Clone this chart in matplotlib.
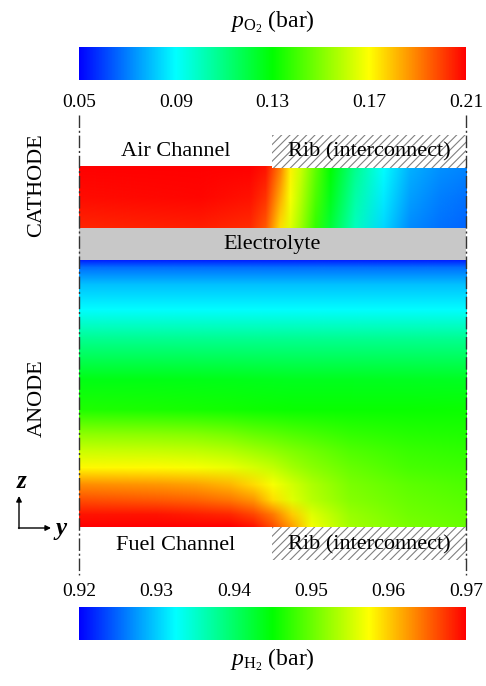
import numpy as np
import matplotlib
matplotlib.use("Agg")
import matplotlib.pyplot as plt
from matplotlib.colors import LinearSegmentedColormap, Normalize
from matplotlib.cm import ScalarMappable
from matplotlib.patches import Rectangle
from matplotlib.image import NonUniformImage

plt.rcParams['font.family'] = ['Liberation Serif', 'DejaVu Serif']
plt.rcParams['mathtext.fontset'] = 'custom'
plt.rcParams['mathtext.rm'] = 'Liberation Serif'
plt.rcParams['mathtext.it'] = 'Liberation Serif:italic'
plt.rcParams['hatch.linewidth'] = 0.8

# ---------------- data ----------------
po2_ticks = [0.05, 0.09, 0.13, 0.17, 0.21]
ph2_ticks = [0.92, 0.93, 0.94, 0.95, 0.96, 0.97]
po2_label = r'$p_{\mathrm{O_2}}$ (bar)'
ph2_label = r'$p_{\mathrm{H_2}}$ (bar)'

# cathode field: normalised in-plane position y/W (0 = channel side, 1 = rib side)
cath_y = [0.0, 0.313, 0.442, 0.481, 0.519, 0.545, 0.571, 0.610, 0.649, 0.713, 0.786, 0.855, 0.933, 1.0]
cath_z = [0.0, 0.5, 1.0]          # 0 = electrolyte side, 1 = air channel side
cath_po2 = [
    [0.204, 0.205, 0.203, 0.196, 0.175, 0.165, 0.155, 0.138, 0.121, 0.100, 0.084, 0.072, 0.068, 0.066],
    [0.208, 0.209, 0.207, 0.202, 0.183, 0.169, 0.159, 0.142, 0.126, 0.104, 0.087, 0.075, 0.070, 0.068],
    [0.210, 0.210, 0.210, 0.207, 0.190, 0.172, 0.162, 0.145, 0.130, 0.108, 0.090, 0.078, 0.073, 0.071],
]

# anode field
anode_y = [0.0, 0.2, 0.3, 0.39, 0.45, 0.5, 0.55, 0.6, 0.7, 0.85, 1.0]
anode_z = [0.0, 0.045, 0.101, 0.157, 0.221, 0.281, 0.345, 0.438, 0.551, 0.700, 0.813, 0.906, 0.970, 1.0]  # 0 = fuel side
anode_ph2 = [
    [0.9700, 0.9700, 0.9700, 0.9700, 0.9690, 0.9660, 0.9620, 0.9570, 0.9530, 0.9510, 0.9500],
    [0.9690, 0.9690, 0.9685, 0.9680, 0.9665, 0.9640, 0.9600, 0.9560, 0.9525, 0.9505, 0.9497],
    [0.9660, 0.9655, 0.9650, 0.9640, 0.9625, 0.9590, 0.9560, 0.9540, 0.9515, 0.9500, 0.9492],
    [0.9630, 0.9625, 0.9620, 0.9610, 0.9592, 0.9572, 0.9553, 0.9535, 0.9510, 0.9495, 0.9488],
    [0.9577, 0.9576, 0.9572, 0.9565, 0.9555, 0.9545, 0.9530, 0.9518, 0.9500, 0.9485, 0.9480],
    [0.9550, 0.9548, 0.9545, 0.9538, 0.9530, 0.9522, 0.9513, 0.9505, 0.9490, 0.9478, 0.9473],
    [0.9520, 0.9518, 0.9515, 0.9508, 0.9500, 0.9495, 0.9490, 0.9485, 0.9475, 0.9468, 0.9465],
    [0.9465, 0.9462, 0.9460, 0.9458, 0.9456, 0.9455, 0.9454, 0.9454, 0.9454, 0.9454, 0.9455],
    [0.9440, 0.9440, 0.9439, 0.9438, 0.9437, 0.9436, 0.9435, 0.9435, 0.9435, 0.9434, 0.9433],
    [0.9380, 0.9380, 0.9380, 0.9380, 0.9380, 0.9380, 0.9380, 0.9380, 0.9380, 0.9380, 0.9380],
    [0.9325, 0.9325, 0.9325, 0.9325, 0.9325, 0.9325, 0.9325, 0.9325, 0.9325, 0.9325, 0.9325],
    [0.9295, 0.9295, 0.9295, 0.9295, 0.9295, 0.9295, 0.9295, 0.9295, 0.9295, 0.9295, 0.9295],
    [0.9255, 0.9255, 0.9255, 0.9255, 0.9255, 0.9255, 0.9255, 0.9255, 0.9255, 0.9255, 0.9255],
    [0.9212, 0.9212, 0.9212, 0.9212, 0.9212, 0.9212, 0.9212, 0.9212, 0.9212, 0.9212, 0.9212],
]

region_labels = ['CATHODE', 'ANODE']
cath_labels = ['Air Channel', 'Rib (interconnect)']
anode_labels = ['Fuel Channel', 'Rib (interconnect)']
electrolyte_label = 'Electrolyte'

# ---------------- figure ----------------
W, H = 486, 686
fig = plt.figure(figsize=(W / 100, H / 100), dpi=100)


def ax_px(x0, y0, x1, y1):
    return fig.add_axes([x0 / W, 1 - y1 / H, (x1 - x0) / W, (y1 - y0) / H])


cmap = LinearSegmentedColormap.from_list(
    'rainbow5', ['#0000ff', '#00ffff', '#00ff00', '#ffff00', '#ff0000'], N=512)
norm_o2 = Normalize(vmin=po2_ticks[0], vmax=po2_ticks[-1])
norm_h2 = Normalize(vmin=ph2_ticks[0], vmax=ph2_ticks[-1])

X0, X1 = 79, 466
XR = 272


def field(ax, ys, zs, vals, norm):
    im = NonUniformImage(ax, interpolation='bilinear', cmap=cmap, norm=norm,
                         extent=(0, 1, 0, 1))
    im.set_data(np.array(ys), np.array(zs), np.array(vals))
    ax.add_image(im)
    ax.set_xlim(0, 1)
    ax.set_ylim(0, 1)
    ax.axis('off')


axc = ax_px(X0, 167, X1, 228)
field(axc, cath_y, cath_z, cath_po2, norm_o2)

axa = ax_px(X0, 260, X1, 527)
field(axa, anode_y, anode_z, anode_ph2, norm_h2)

# colorbars
cax_t = ax_px(X0, 47, X1, 80)
cb_t = fig.colorbar(ScalarMappable(norm=norm_o2, cmap=cmap), cax=cax_t,
                    orientation='horizontal', ticks=po2_ticks)
cb_t.outline.set_visible(False)
cax_t.xaxis.set_ticks_position('bottom')
cax_t.tick_params(length=0, pad=10, labelsize=14)
cax_t.set_xticklabels([f'{t:.2f}' for t in po2_ticks])

cax_b = ax_px(X0, 607, X1, 640)
cb_b = fig.colorbar(ScalarMappable(norm=norm_h2, cmap=cmap), cax=cax_b,
                    orientation='horizontal', ticks=ph2_ticks)
cb_b.outline.set_visible(False)
cax_b.xaxis.set_ticks_position('top')
cax_b.tick_params(length=0, pad=5, labelsize=14)
cax_b.set_xticklabels([f'{t:.2f}' for t in ph2_ticks])

# overlay in pixel coordinates
ov = fig.add_axes([0, 0, 1, 1])
ov.set_xlim(0, W); ov.set_ylim(H, 0); ov.axis('off')

ov.text((X0 + X1) / 2, 22, po2_label, ha='center', va='center', fontsize=17)
ov.text((X0 + X1) / 2, 660, ph2_label, ha='center', va='center', fontsize=17)

ov.add_patch(Rectangle((X0, 228), X1 - X0, 32, facecolor='#c8c8c8', edgecolor='none'))
ov.text((X0 + X1) / 2, 244.5, electrolyte_label, ha='center', va='center', fontsize=16)

for yt in (135, 527):
    ov.add_patch(Rectangle((XR, yt), X1 - XR, 33, facecolor='white',
                           edgecolor='#808080', linewidth=0, hatch='////'))

ov.text((X0 + XR) / 2, 152, cath_labels[0], ha='center', va='center', fontsize=16)
ov.text((XR + X1) / 2, 152, cath_labels[1], ha='center', va='center', fontsize=16)
ov.text((X0 + XR) / 2, 545, anode_labels[0], ha='center', va='center', fontsize=16)
ov.text((XR + X1) / 2, 545, anode_labels[1], ha='center', va='center', fontsize=16)

for xv in (X0, X1):
    ov.plot([xv, xv], [115, 575], color='#333333', lw=1.0, ls=(0, (9, 2, 1.5, 2)))

ov.text(37, 185, region_labels[0], rotation=90, ha='center', va='center', fontsize=16)
ov.text(37, 398, region_labels[1], rotation=90, ha='center', va='center', fontsize=16)

ov.annotate('', xy=(19, 496), xytext=(19, 528.5),
            arrowprops=dict(arrowstyle='-|>', lw=1.0, color='black', mutation_scale=8,
                            shrinkA=0, shrinkB=0))
ov.annotate('', xy=(51, 528), xytext=(18.5, 528),
            arrowprops=dict(arrowstyle='-|>', lw=1.0, color='black', mutation_scale=8,
                            shrinkA=0, shrinkB=0))
ov.text(22, 482, 'z', ha='center', va='center', fontsize=18, fontweight='bold', fontstyle='italic')
ov.text(61, 528, 'y', ha='center', va='center', fontsize=18, fontweight='bold', fontstyle='italic')

fig.savefig('out.png', dpi=100)
